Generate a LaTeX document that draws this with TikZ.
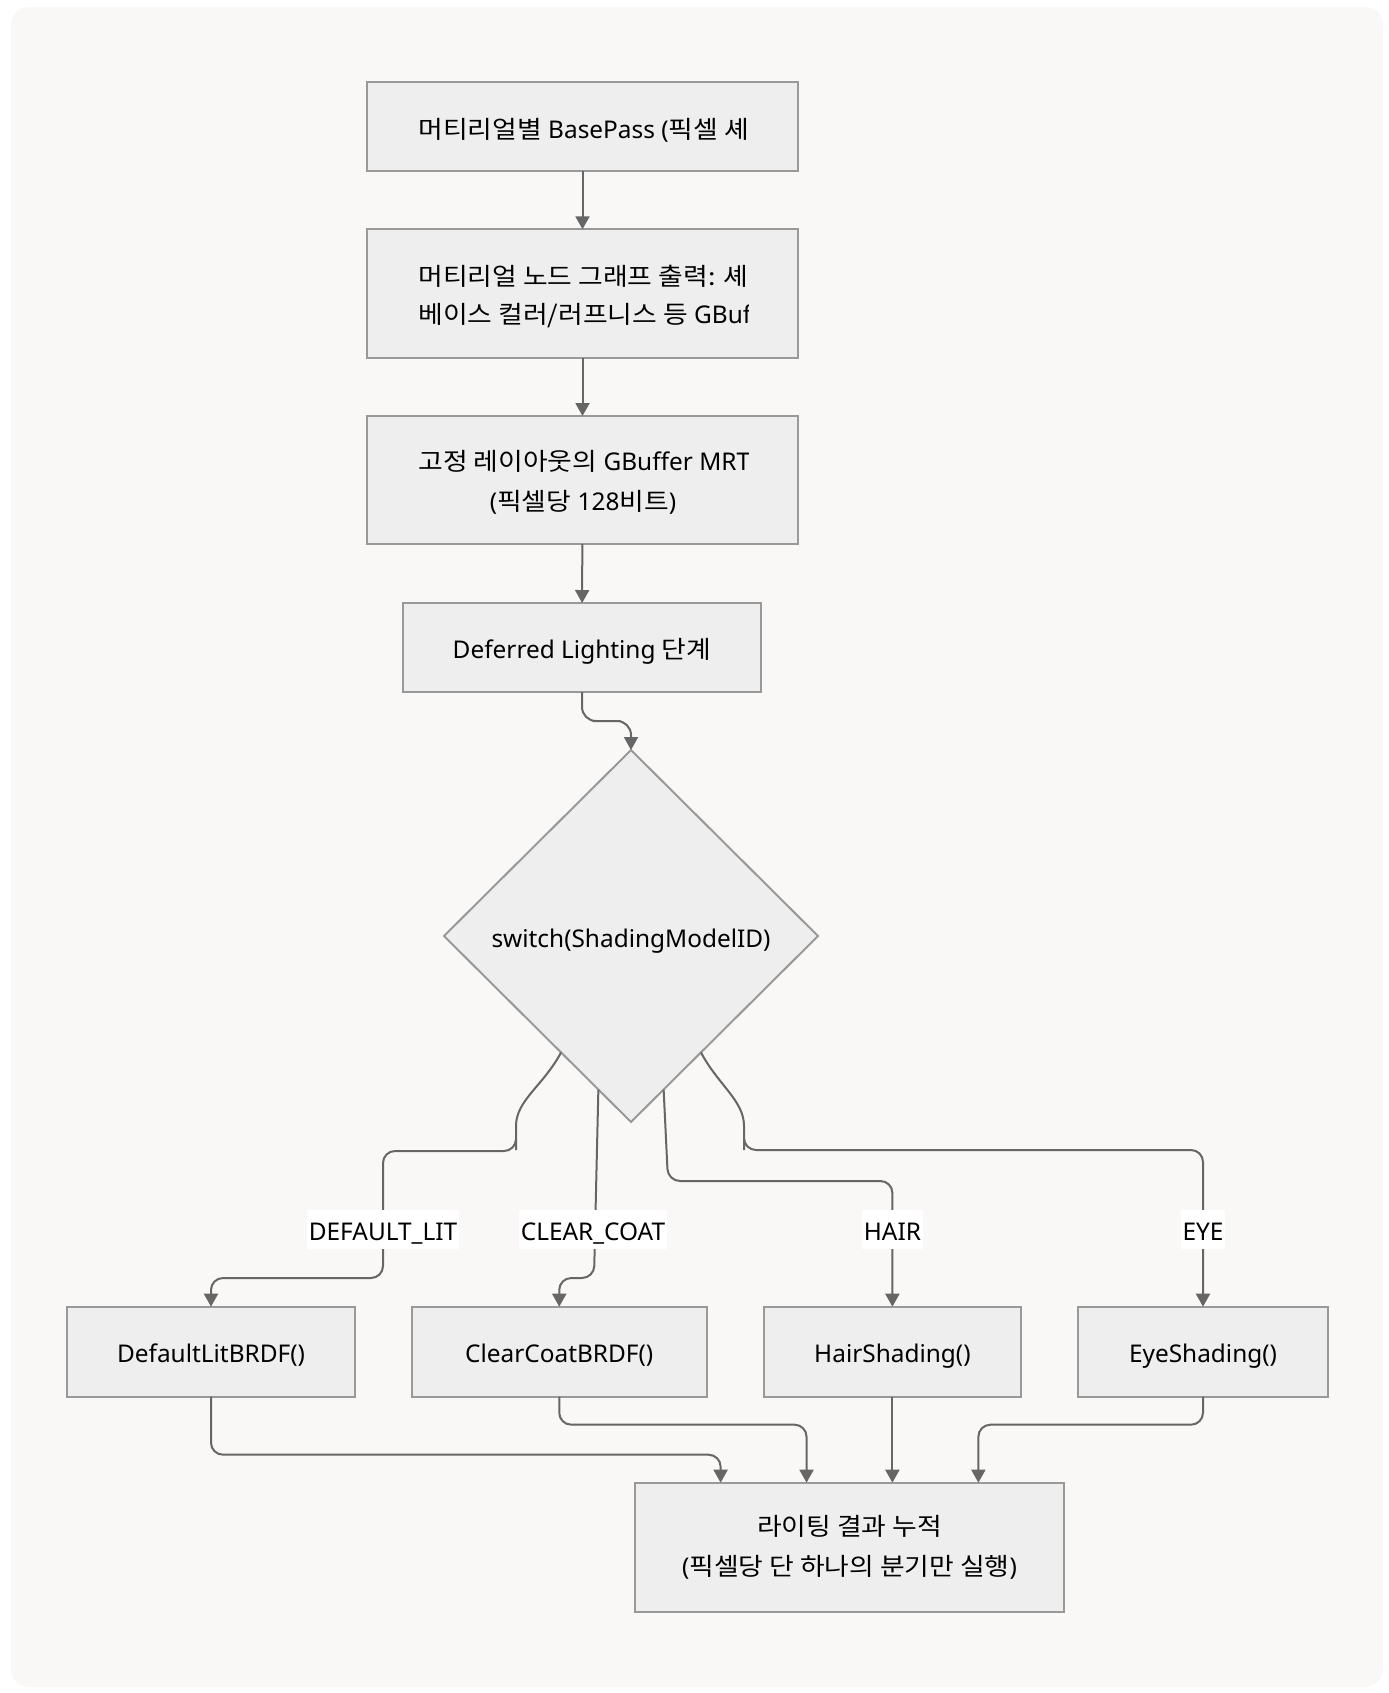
\documentclass[tikz,border=0pt]{standalone}
\usepackage{fontspec}
\setmainfont{Noto Sans}
\newfontfamily\kr[FakeStretch=1.1]{Noto Sans CJK KR}
\usetikzlibrary{arrows.meta,shapes.geometric,calc}
\definecolor{bgcol}{HTML}{F9F8F6}
\definecolor{boxfill}{HTML}{EEEEEE}
\definecolor{boxline}{HTML}{999999}
\definecolor{edgecol}{HTML}{666666}

\begin{document}
\begin{tikzpicture}[x=0.5pt,y=-0.5pt,
	procbox/.style={draw=boxline, fill=boxfill, line width=1pt, inner sep=0pt, outer sep=0pt, align=center, text height=11pt, text depth=0pt, font=\fontsize{12.2pt}{20pt}\selectfont},
	boxtext/.style={inner sep=0pt, font=\fontsize{12.2pt}{20pt}\selectfont},
	flow/.style={draw=edgecol, line width=1pt, rounded corners=6pt, -{Triangle[length=6.5pt,width=7pt]}},
	caselabel/.style={fill=white, inner xsep=1pt, inner ysep=0pt, minimum height=19.5pt, text height=11pt, text depth=0pt, font=\fontsize{12.2pt}{14pt}\selectfont}]
				\useasboundingbox (0,0) rectangle (1388,1693);
				\fill[white] (0,0) rectangle (1388,1693);
				\fill[bgcol, rounded corners=9pt] (11,7) rectangle (1383,1687);
				
				\node[procbox, minimum width=215.5pt, minimum height=44.5pt] (basepass) at (582.5,126.5) {};
				\node[procbox, minimum width=215.5pt, minimum height=64.25pt] (mgraph) at (582.5,293.5) {};
				\node[procbox, minimum width=215.5pt, minimum height=64pt] (gbuffer) at (582.5,480) {};
				\begin{scope}
					\clip (418,80) rectangle (748,546);
					\node[boxtext, anchor=base west] at (418,138.5) {{\kr 머티리얼별} BasePass ({\kr 픽셀 셰이}};
					\node[boxtext, anchor=base west] at (418,285) {{\kr 머티리얼 노드 그래프 출력: 셰이}};
					\node[boxtext, anchor=base west] at (418,323) {{\kr 베이스 컬러/러프니스 등} GBuffer};
					\node[boxtext, anchor=base west] at (418,470.5) {{\kr 고정 레이아웃의} GBuffer MRT{\kr 에}};
					\node[boxtext, anchor=base] at (583,510.5) {({\kr 픽셀당} 128{\kr 비트})};
				\end{scope}
				
				\node[procbox, minimum width=179pt, minimum height=44.5pt] (deferred) at (582,647.5) {Deferred Lighting {\kr 단계}};
				\node[procbox, diamond, minimum width=187pt, minimum height=186pt] (switch) at (631,936) {switch(ShadingModelID)};
				
				\node[procbox, minimum width=144pt, minimum height=45pt] (dlit) at (211,1351.7) {DefaultLitBRDF()};
				\node[procbox, minimum width=147.25pt, minimum height=45pt] (ccoat) at (559.25,1351.7) {ClearCoatBRDF()};
				\node[procbox, minimum width=128.5pt, minimum height=45pt] (hair) at (892.4,1351.7) {HairShading()};
				\node[procbox, minimum width=125pt, minimum height=45pt] (eye) at (1203,1351.7) {EyeShading()};
				\node[procbox, text height=, text depth=, minimum width=214.8pt, minimum height=64.5pt] (acc) at (849.5,1547.2) {{\kr 라이팅 결과 누적}\\({\kr 픽셀당 단 하나의 분기만 실행})};
				\foreach \k in {1,...,4}
					\coordinate (acc-in\k) at ($(acc.north west)!\k/5!(acc.north east)$);
				
				\draw[flow] (basepass) -- (mgraph);
				\draw[flow] (mgraph) -- (gbuffer);
				\draw[flow] (gbuffer) -- (deferred);
				\draw[flow, rounded corners=7pt] (deferred.south) |- ($(deferred.south)!0.5!(switch.north)$) -| (switch.north);
				
				\draw[flow] (switch.239) to[out=-118,in=90] (516,1138) -- (516,1151) -- (383,1151) -- (383,1278) -- (211,1278) -- (dlit.north);
				\draw[flow] (switch.258) -- (594,1278) -| (ccoat.north);
				\draw[flow] (switch.282) -- (668,1181) -| (hair.north);
				\draw[flow] (switch.301) to[out=-62,in=90] (744,1138) -- (744,1150) -| (eye.north);
				
				\node[caselabel] (lbl-dlit) at (383,1229.5) {DEFAULT\_LIT};
				\node[caselabel] (lbl-ccoat) at (593,1229.5) {CLEAR\_COAT};
				\node[caselabel] (lbl-hair) at (892.4,1229.5) {HAIR};
				\node[caselabel] (lbl-eye) at (1203,1229.5) {EYE};
				
				\draw[flow] (dlit.south) -- ++(0,58) -| (acc-in1);
				\draw[flow] (ccoat.south) -- ++(0,28) -| (acc-in2);
				\draw[flow] (hair.south) -- (hair.south |- acc.north);
				\draw[flow] (eye.south) -- ++(0,28) -| (acc-in4);
			\end{tikzpicture}
\end{document}
